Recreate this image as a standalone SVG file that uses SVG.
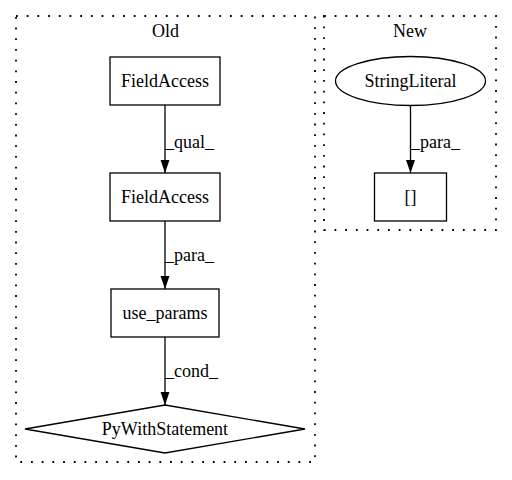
<svg xmlns="http://www.w3.org/2000/svg" width="512" height="480" viewBox="0 0 512 480">
<style>
text{font-family:"Liberation Serif","Times New Roman",serif;font-size:18px;fill:#000}
.c{text-anchor:middle}
.cl{fill:none;stroke:#000;stroke-width:1.8;stroke-dasharray:1.8,8.9}
.n{fill:#fff;stroke:#000;stroke-width:1.3}
.e{fill:none;stroke:#000;stroke-width:1.3}
</style>
<defs>
<marker id="ah" markerWidth="13" markerHeight="10" refX="13" refY="5" orient="auto" markerUnits="userSpaceOnUse">
<polygon points="0,0.5 13,5 0,9.5" fill="#000"/>
</marker>
</defs>
<rect width="512" height="480" fill="#fff"/>
<g id="cluster_old">
<rect class="cl" x="16" y="16" width="299" height="446"/>
<text class="c" x="165.5" y="37">Old</text>
</g>
<g id="cluster_new">
<rect class="cl" x="324" y="16" width="172" height="214"/>
<text class="c" x="410" y="37">New</text>
</g>
<g id="connectors">
<line class="e" x1="165" y1="105" x2="165" y2="173" marker-end="url(#ah)"/>
<text x="165" y="148">_qual_</text>
<line class="e" x1="165" y1="221" x2="165" y2="289" marker-end="url(#ah)"/>
<text x="165" y="261">_para_</text>
<line class="e" x1="165" y1="337" x2="165" y2="405" marker-end="url(#ah)"/>
<text x="165" y="377">_cond_</text>
<line class="e" x1="410.5" y1="106" x2="410.5" y2="173" marker-end="url(#ah)"/>
<text x="411" y="148">_para_</text>
</g>
<g id="fieldaccess1">
<rect class="n" x="110" y="57" width="110" height="48"/>
<text class="c" x="165" y="87">FieldAccess</text>
</g>
<g id="fieldaccess2">
<rect class="n" x="110" y="173" width="110" height="48"/>
<text class="c" x="165" y="203">FieldAccess</text>
</g>
<g id="use_params">
<rect class="n" x="111" y="289" width="108" height="48"/>
<text class="c" x="165" y="319">use_params</text>
</g>
<g id="pywithstatement">
<polygon class="n" points="165,405 305,429 165,453 25,429"/>
<text class="c" x="165" y="435">PyWithStatement</text>
</g>
<g id="stringliteral">
<ellipse class="n" cx="410.5" cy="81" rx="75" ry="24.5"/>
<text class="c" x="410.5" y="87">StringLiteral</text>
</g>
<g id="brackets">
<rect class="n" x="374.5" y="173" width="72" height="48"/>
<text class="c" x="410.5" y="203">[]</text>
</g>
</svg>
